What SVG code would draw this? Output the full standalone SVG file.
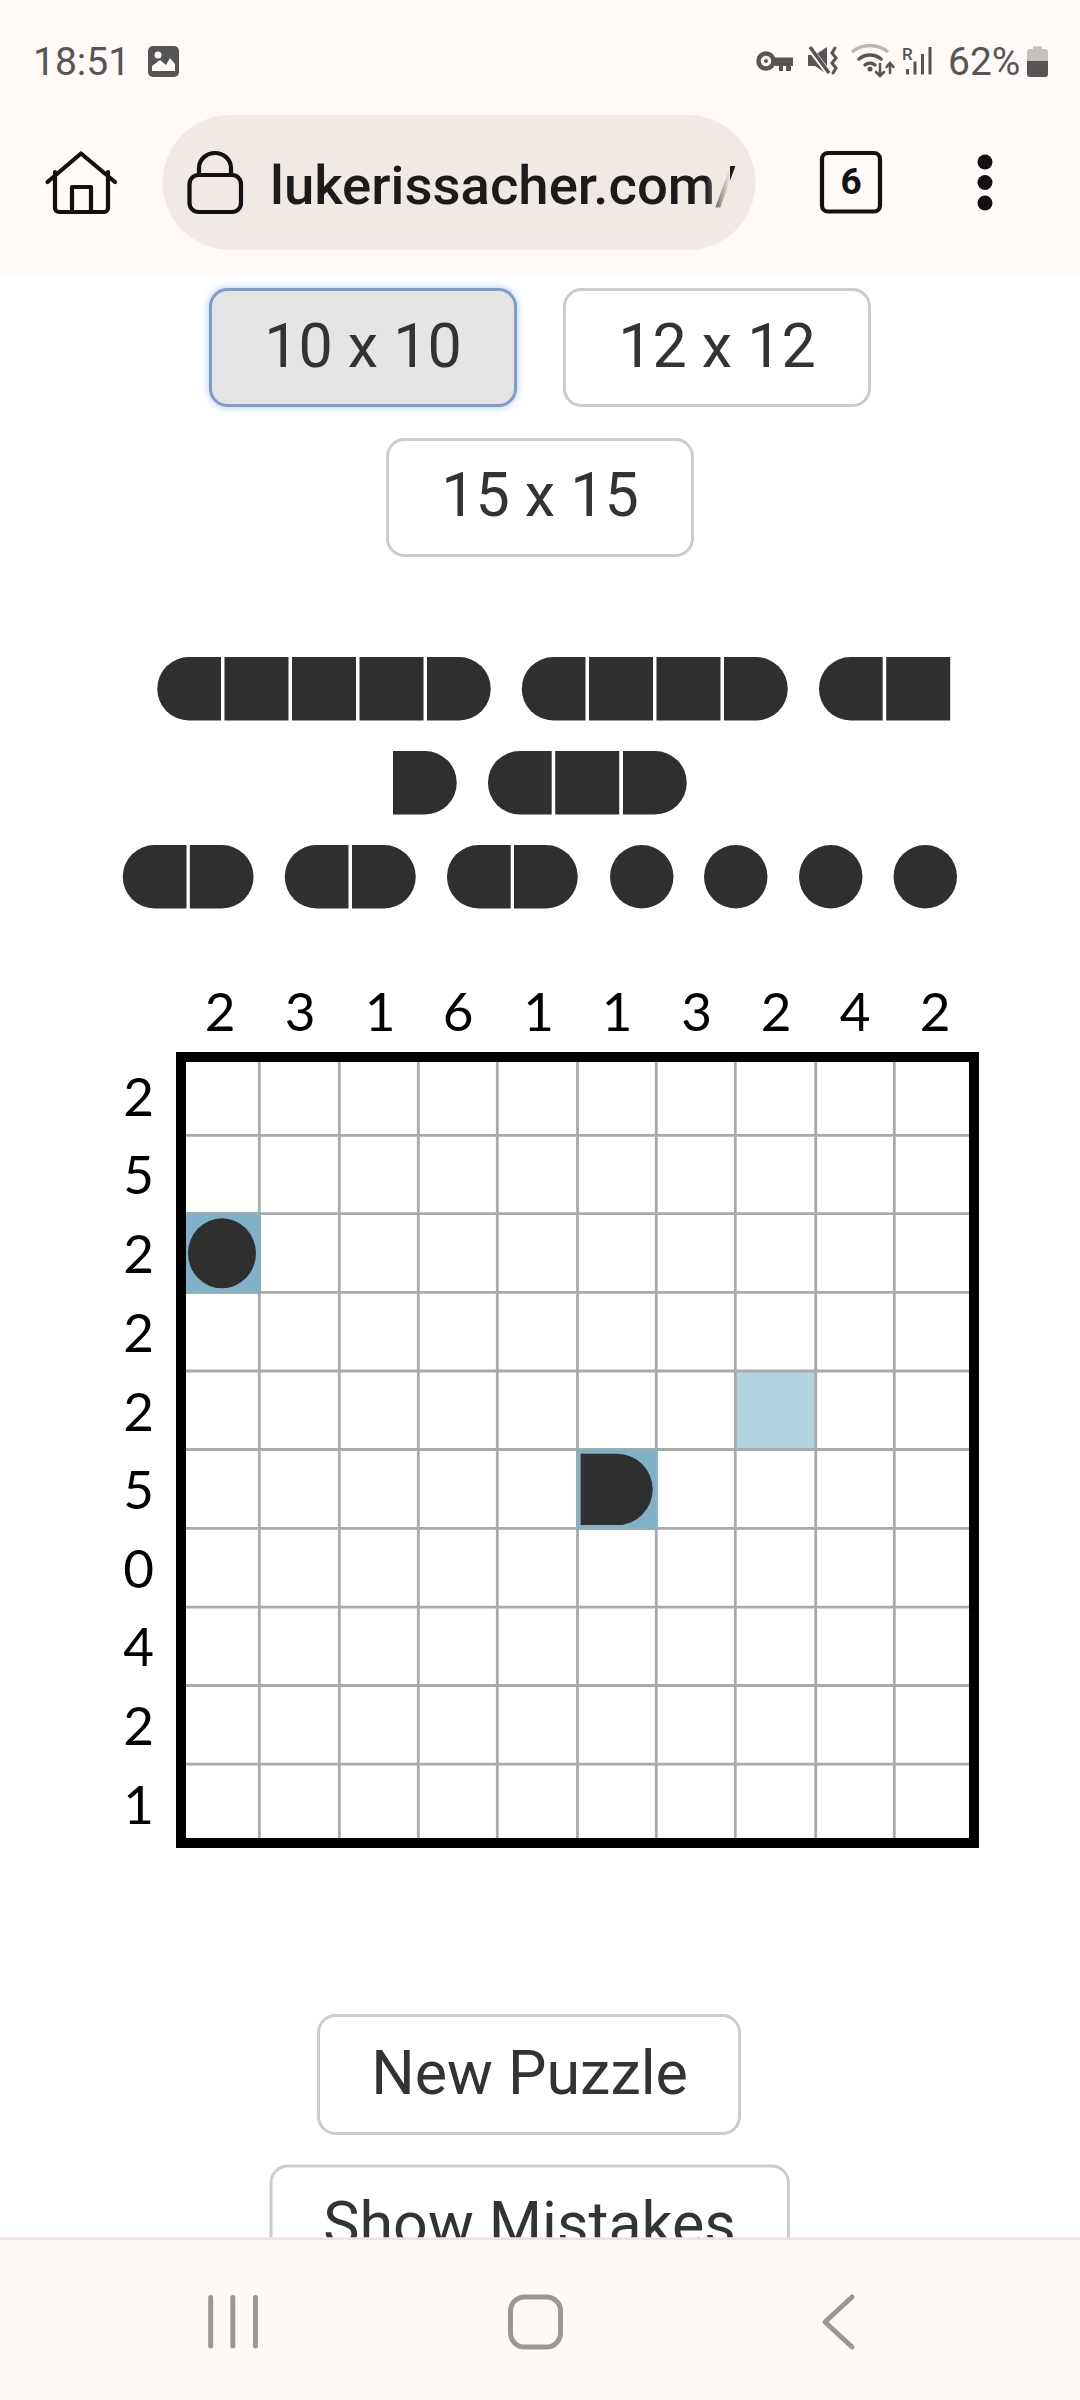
<svg xmlns="http://www.w3.org/2000/svg" width="1080" height="2400" viewBox="0 0 1080 2400">
<style>
.btn{fill:#fff;stroke:#ccc;stroke-width:3}
.btxt{font-family:Roboto,"Liberation Sans",sans-serif;font-weight:400;font-size:61px;fill:#333;text-anchor:middle}
.clue{font-family:Lato,"Liberation Sans",sans-serif;font-size:53px;fill:#000;text-anchor:middle}
.piece{fill:#2f2f2f}
.gl{stroke:#aaa;stroke-width:2.8;fill:none}
.ic{fill:none;stroke:#111;stroke-width:4.2;stroke-linejoin:round;stroke-linecap:round}
.st{fill:#555}
.sts{fill:none;stroke:#555;stroke-linecap:round}
.stt{font-family:Roboto,"Liberation Sans",sans-serif;font-size:39px;fill:#555}
.nav{fill:none;stroke:#9b9794;stroke-width:5;stroke-linecap:round;stroke-linejoin:round}
</style>
<defs>
<path id="pl" d="M32 0H64V63.5H32A31.75 31.75 0 0 1 32 0Z"/>
<rect id="pm" width="64" height="63.5"/>
<path id="pr" d="M0 0H32A31.75 31.75 0 0 1 32 63.5H0Z"/>
<circle id="pc" cx="31.75" cy="31.75" r="31.75"/>
<filter id="glow" x="-20%" y="-30%" width="140%" height="160%"><feGaussianBlur stdDeviation="4"/></filter>
<linearGradient id="fade" x1="0" x2="1" y1="0" y2="0"><stop offset="0" stop-color="#f1e9e3" stop-opacity="0"/><stop offset="1" stop-color="#f1e9e3"/></linearGradient>
</defs>
<rect width="1080" height="2400" fill="#fff"/>

<g id="size-buttons">
<g id="btn-10">
<rect x="210" y="289" width="306" height="117" rx="17" fill="#6aa5ee" opacity=".75" filter="url(#glow)"/>
<rect x="210.500" y="289.500" width="305" height="116" rx="17" fill="#e5e5e5" stroke="#7f9dc8" stroke-width="3"/>
<text class="btxt" x="363" y="367">10 x 10</text></g>
<g id="btn-12"><rect class="btn" x="564.500" y="289.500" width="305" height="116" rx="17"/><text class="btxt" x="717" y="367">12 x 12</text></g>
<g id="btn-15"><rect class="btn" x="387.500" y="439.500" width="305" height="116" rx="17"/><text class="btxt" x="540" y="516">15 x 15</text></g>
</g>

<g id="pieces" class="piece">
<g id="piece-row1">
<use href="#pl" x="157" y="657"/><use href="#pm" x="224.500" y="657"/><use href="#pm" x="292" y="657"/><use href="#pm" x="359.500" y="657"/><use href="#pr" x="427" y="657"/>
<use href="#pl" x="521.500" y="657"/><use href="#pm" x="589" y="657"/><use href="#pm" x="656.500" y="657"/><use href="#pr" x="724" y="657"/>
<use href="#pl" x="818.700" y="657"/><use href="#pm" x="886.200" y="657"/>
</g>
<g id="piece-row2">
<use href="#pr" x="393" y="751"/>
<use href="#pl" x="487.700" y="751"/><use href="#pm" x="555.200" y="751"/><use href="#pr" x="623" y="751"/>
</g>
<g id="piece-row3">
<use href="#pl" x="122.500" y="845"/><use href="#pr" x="189.800" y="845"/>
<use href="#pl" x="284.500" y="845"/><use href="#pr" x="352" y="845"/>
<use href="#pl" x="446.700" y="845"/><use href="#pr" x="514" y="845"/>
<use href="#pc" x="610" y="845"/><use href="#pc" x="704" y="845"/><use href="#pc" x="799" y="845"/><use href="#pc" x="893.500" y="845"/>
</g>
</g>

<g id="col-clues">
<text class="clue" x="220" y="1031">2</text><text class="clue" x="300" y="1031">3</text><text class="clue" x="380" y="1031">1</text><text class="clue" x="458" y="1031">6</text><text class="clue" x="538.500" y="1031">1</text><text class="clue" x="617" y="1031">1</text><text class="clue" x="696.500" y="1031">3</text><text class="clue" x="776" y="1031">2</text><text class="clue" x="855" y="1031">4</text><text class="clue" x="935" y="1031">2</text>
</g>
<g id="row-clues">
<text class="clue" x="138.700" y="1115.500">2</text><text class="clue" x="138.700" y="1194">5</text><text class="clue" x="138.700" y="1272.500">2</text><text class="clue" x="138.700" y="1351.500">2</text><text class="clue" x="138.700" y="1430.500">2</text><text class="clue" x="138.700" y="1509">5</text><text class="clue" x="138.700" y="1587.500">0</text><text class="clue" x="138.700" y="1666">4</text><text class="clue" x="138.700" y="1745">2</text><text class="clue" x="138.700" y="1824">1</text>
</g>

<g id="board">
<rect x="181" y="1057" width="793" height="786" fill="#fff"/>
<rect id="cell-hint" x="736" y="1370" width="80" height="79.500" fill="#b1d2e0"/>
<g id="grid-lines" class="gl">
<path d="M259.300 1062V1838M339.300 1062V1838M418.300 1062V1838M497.300 1062V1838M577.500 1062V1838M656.300 1062V1838M735.300 1062V1838M815.700 1062V1838M894.300 1062V1838"/>
<path d="M186 1135.300H969M186 1213.700H969M186 1292.300H969M186 1371H969M186 1449.500H969M186 1528.400H969M186 1607.200H969M186 1685.500H969M186 1764.200H969"/>
</g>
<g id="cell-a">
<rect x="186" y="1213" width="75" height="79.500" fill="#7fb1c8"/>
<path d="M186 1213.700H261M186 1292.300H261" stroke="#93adba" stroke-width="2.800"/>
<ellipse class="piece" cx="222" cy="1253.300" rx="34" ry="35"/>
</g>
<g id="cell-b">
<rect x="576.500" y="1449" width="81" height="80" fill="#7fb1c8"/>
<path d="M576.500 1449.500H657.500M576.500 1528.400H657.500M577.500 1449.500V1528.400" stroke="#93adba" stroke-width="2.800" fill="none"/>
<path class="piece" d="M580.700 1453.700H617A35.700 35.700 0 0 1 617 1525.100H580.700Z"/>
</g>
<rect id="board-frame" x="181" y="1057" width="793" height="786" fill="none" stroke="#000" stroke-width="10"/>
</g>

<g id="action-buttons">
<g id="btn-new"><rect class="btn" x="318.500" y="2015.500" width="421" height="118" rx="17"/><text class="btxt" x="529.500" y="2094">New Puzzle</text></g>
<g id="btn-mistakes"><rect class="btn" x="271" y="2166" width="517.500" height="118" rx="17"/><text class="btxt" x="529.500" y="2245">Show Mistakes</text></g>
</g>

<g id="top-bar">
<rect width="1080" height="275" fill="#fffaf7"/>
<g id="status-left">
<text class="stt" x="33" y="75">18:51</text>
<rect class="st" x="148" y="46" width="31" height="31" rx="5"/>
<circle cx="158" cy="55" r="3.500" fill="#fffaf7"/>
<path d="M152 71V66L160 60L166 65L170 58L175 64V71Z" fill="#fffaf7"/>
</g>
<g id="status-right">
<g id="icon-key">
<circle class="sts" cx="766" cy="61" r="7.500" stroke-width="4.500"/>
<circle class="st" cx="766" cy="61" r="2"/>
<path class="st" d="M775 57.500H793V66H791V71H786V66H783V71H779V66H775Z"/>
</g>
<g id="icon-mute">
<path class="st" d="M808 55H815L827 47V74L815 66H808Z"/>
<path d="M808 46L830 75" stroke="#fffaf7" stroke-width="6"/>
<path d="M810 47L829 73" stroke="#555" stroke-width="3.500"/>
<path class="sts" stroke-width="3" d="M835 48L832 53L836 58L832 63L836 68L833 73"/>
</g>
<g id="icon-wifi">
<path d="M852 52A28 28 0 0 1 888 52" fill="none" stroke="#bbb8b5" stroke-width="3.500"/>
<path class="sts" stroke-width="3.500" d="M859 59A17 17 0 0 1 881 59M865 65A8 8 0 0 1 875 65"/>
<circle class="st" cx="870" cy="69" r="2.500"/>
<path class="sts" stroke-width="2.500" d="M880 64V76M876 72L880 76L884 72M890 73V63M886.500 67L890 63L893.500 67"/>
</g>
<g id="icon-signal">
<text x="902" y="59.500" style="font-family:Roboto,'Liberation Sans',sans-serif;font-size:17px;font-weight:500;fill:#555">R</text>
<rect class="st" x="906" y="69" width="3" height="5.500"/>
<rect class="st" x="913.500" y="61.500" width="3" height="13"/>
<rect class="st" x="921" y="54" width="3" height="20.500"/>
<rect class="st" x="928.500" y="47" width="3" height="27.500"/>
</g>
<text class="stt" x="948" y="75">62%</text>
<g id="icon-battery">
<path d="M1033 49V46.500H1042V49H1045A3 3 0 0 1 1048 52V61H1027V52A3 3 0 0 1 1030 49Z" fill="#c4c1be"/>
<path class="st" d="M1027 61H1048V74A3 3 0 0 1 1045 77H1030A3 3 0 0 1 1027 74Z"/>
</g>
</g>
<g id="icon-home" class="ic">
<path d="M47.500 182L81 153.500L115 182M55 172V208A4 4 0 0 0 59 212H104A4 4 0 0 0 108 208V172M72 212V187H91V212"/>
</g>
<g id="url-pill">
<rect x="162.500" y="115" width="593" height="135" rx="67.500" fill="#f1e9e3"/>
<g id="icon-lock" class="ic"><rect x="189.500" y="175" width="51.500" height="37" rx="9"/><path d="M199 175V168A16 15 0 0 1 231 168V175"/></g>
<text x="270" y="203.500" style="font-family:Roboto,'Liberation Sans',sans-serif;font-size:54.500px;font-weight:500;fill:#1c1b1b">lukerissacher.com/</text>
<rect x="706" y="150" width="24" height="70" fill="url(#fade)"/>
</g>
<g id="icon-tabs">
<rect class="ic" x="822" y="153" width="58" height="58.500" rx="6"/>
<text x="851" y="194" text-anchor="middle" style="font-family:Roboto,'Liberation Sans',sans-serif;font-size:37px;font-weight:700;fill:#111">6</text>
</g>
<g id="icon-menu" fill="#111"><circle cx="985" cy="162" r="7.500"/><circle cx="985" cy="182.500" r="7.500"/><circle cx="985" cy="203" r="7.500"/></g>
</g>

<g id="nav-bar">
<rect y="2237.500" width="1080" height="162.500" fill="#fdf9f6"/>
<rect y="2237.500" width="1080" height="2.500" fill="#eee0dc"/>
<g id="nav-recent" class="nav"><path d="M210.700 2297.500V2346M232.800 2297.500V2346M255.500 2297.500V2346"/></g>
<rect id="nav-home" class="nav" x="510.500" y="2297" width="50" height="50" rx="14"/>
<path id="nav-back" class="nav" d="M852 2297L825 2322L852 2347"/>
</g>
</svg>
